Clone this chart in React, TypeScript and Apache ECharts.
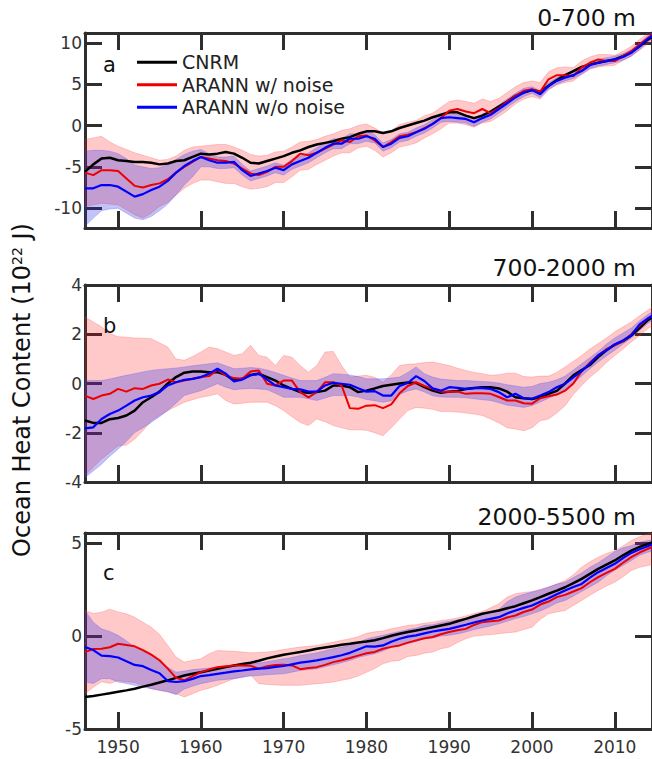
import React, { useEffect, useRef } from "react";
import * as echarts from "echarts";

const YEARS = [
  1946, 1947, 1948, 1949, 1950, 1951, 1952, 1953, 1954, 1955,
  1956, 1957, 1958, 1959, 1960, 1961, 1962, 1963, 1964, 1965,
  1966, 1967, 1968, 1969, 1970, 1971, 1972, 1973, 1974, 1975,
  1976, 1977, 1978, 1979, 1980, 1981, 1982, 1983, 1984, 1985,
  1986, 1987, 1988, 1989, 1990, 1991, 1992, 1993, 1994, 1995,
  1996, 1997, 1998, 1999, 2000, 2001, 2002, 2003, 2004, 2005,
  2006, 2007, 2008, 2009, 2010, 2011, 2012, 2013, 2014, 2015,
];
const X_TICKS = [1950, 1960, 1970, 1980, 1990, 2000, 2010];

// ---------- Panel a: 0-700 m ----------
const A_CNRM = [
  -5.6, -4.7, -4.0, -3.9, -4.2, -4.3, -4.4, -4.4, -4.5, -4.7,
  -4.6, -4.3, -4.2, -3.8, -3.4, -3.5, -3.4, -3.2, -3.4, -3.9,
  -4.5, -4.6, -4.3, -4.0, -3.7, -3.3, -3.0, -2.6, -2.3, -2.1,
  -1.9, -1.6, -1.4, -1.0, -0.7, -0.7, -0.9, -0.7, -0.3, 0.0,
  0.3, 0.6, 1.0, 1.3, 1.6, 1.6, 1.2, 0.9, 1.2, 1.7,
  2.3, 2.9, 3.6, 4.0, 4.3, 4.1, 4.8, 5.5, 6.1, 6.6,
  7.1, 7.4, 7.6, 7.8, 8.0, 8.4, 8.9, 9.6, 10.4, 11.0,
];
const A_RED = [
  -5.7, -6.0, -5.4, -5.4, -5.5, -6.4, -7.3, -7.5, -7.2, -7.0,
  -6.5, -5.7, -5.0, -4.4, -3.8, -4.0, -4.2, -4.3, -4.6, -5.2,
  -5.8, -6.0, -5.6, -5.0, -5.0, -4.3, -3.4, -3.6, -3.3, -2.8,
  -2.3, -1.8, -2.0, -1.3, -1.2, -1.8, -2.6, -2.0, -1.3, -1.1,
  -0.8, -0.3, 0.2, 0.9, 1.8, 2.0, 1.7, 1.5, 2.0, 1.5,
  2.1, 2.9, 3.6, 4.2, 4.4, 4.1, 5.6, 6.1, 6.1, 6.0,
  7.0, 7.6, 8.0, 7.8, 7.8, 8.4, 9.0, 9.8, 10.6, 11.3,
];
const A_BLUE = [
  -7.6, -7.6, -7.2, -7.2, -7.4, -8.0, -8.6, -8.3, -7.8, -7.4,
  -6.7, -5.7, -4.9, -4.3, -3.8, -4.2, -4.5, -4.5, -4.4, -5.4,
  -6.1, -5.8, -5.5, -5.1, -5.4, -4.7, -4.3, -3.9, -3.3, -2.7,
  -2.2, -2.2, -1.6, -1.6, -1.3, -1.6, -2.6, -2.2, -1.5, -1.3,
  -0.8, -0.4, 0.2, 0.9, 1.0, 0.9, 0.8, 0.4, 0.9, 1.3,
  2.0, 2.7, 3.4, 4.0, 4.3, 3.8, 4.8, 5.4, 5.8, 6.1,
  6.6, 7.3, 7.6, 7.8, 8.0, 8.3, 8.8, 9.6, 10.5, 11.2,
];
const A_RED_LO = [
  -9.8, -9.6, -9.4, -9.5, -9.6, -10.2, -10.8, -11.2, -10.6, -9.8,
  -9.3, -8.4, -7.6, -7.0, -6.6, -6.6, -6.8, -7.0, -7.0, -7.4,
  -7.7, -7.6, -7.4, -6.9, -6.9, -6.2, -5.4, -5.3, -4.7, -4.2,
  -3.7, -3.3, -3.3, -2.7, -2.5, -3.0, -3.8, -3.3, -2.6, -2.4,
  -2.1, -1.5, -1.0, -0.4, 0.3, 0.3, 0.1, -0.2, 0.3, 0.5,
  1.1, 1.8, 2.6, 3.2, 3.5, 3.2, 4.3, 4.9, 5.2, 5.4,
  6.2, 6.8, 7.1, 7.2, 7.3, 7.9, 8.4, 9.1, 9.9, 10.6,
];
const A_RED_HI = [
  -1.7, -1.5, -1.3, -2.0, -2.5, -2.9, -3.3, -3.6, -3.9, -4.2,
  -4.1, -3.7, -3.0, -2.6, -2.5, -2.4, -2.3, -2.3, -2.6, -3.0,
  -3.5, -3.7, -3.6, -3.2, -3.1, -2.6, -2.0, -1.9, -1.7, -1.3,
  -1.0, -0.6, -0.4, 0.0, 0.2, -0.3, -0.9, -0.6, 0.1, 0.4,
  0.6, 1.2, 1.5, 2.2, 2.9, 3.1, 2.9, 2.7, 3.2, 2.9,
  3.3, 4.0, 4.7, 5.2, 5.4, 5.2, 6.5, 7.0, 7.1, 7.0,
  7.8, 8.3, 8.6, 8.6, 8.5, 9.0, 9.6, 10.4, 11.2, 11.9,
];
const A_BLUE_LO = [
  -12.2, -11.2, -10.3, -10.1, -10.0, -10.6, -11.2, -11.4, -11.0, -10.3,
  -9.5, -8.4, -7.2, -6.2, -5.0, -5.0, -5.2, -5.2, -5.1, -6.0,
  -6.7, -6.4, -6.1, -5.7, -6.0, -5.3, -4.9, -4.5, -3.9, -3.3,
  -2.8, -2.8, -2.2, -2.2, -1.9, -2.1, -3.1, -2.7, -2.0, -1.8,
  -1.3, -0.9, -0.3, 0.4, 0.5, 0.4, 0.3, -0.1, 0.4, 0.8,
  1.5, 2.2, 2.9, 3.5, 3.9, 3.4, 4.4, 5.0, 5.4, 5.7,
  6.2, 6.9, 7.2, 7.4, 7.6, 7.9, 8.4, 9.2, 10.1, 10.8,
];
const A_BLUE_HI = [
  -3.1, -3.0, -3.0, -3.1, -3.4, -4.0, -4.8, -5.0, -5.2, -5.1,
  -4.7, -4.1, -3.5, -3.1, -2.9, -3.4, -3.8, -3.8, -3.7, -4.7,
  -5.5, -5.2, -4.9, -4.5, -4.8, -4.1, -3.7, -3.3, -2.7, -2.1,
  -1.6, -1.6, -1.0, -1.0, -0.7, -1.1, -2.1, -1.7, -1.0, -0.8,
  -0.3, 0.1, 0.7, 1.4, 1.5, 1.4, 1.3, 0.9, 1.4, 1.8,
  2.5, 3.2, 3.9, 4.5, 4.7, 4.2, 5.2, 5.8, 6.2, 6.5,
  7.0, 7.7, 8.0, 8.2, 8.4, 8.7, 9.2, 10.0, 10.9, 11.6,
];

// ---------- Panel b: 700-2000 m ----------
const B_CNRM = [
  -1.5, -1.6, -1.6, -1.45, -1.4, -1.3, -1.1, -0.76, -0.56, -0.33,
  0.0, 0.26, 0.44, 0.49, 0.49, 0.46, 0.46, 0.35, 0.12, 0.19,
  0.35, 0.4, 0.26, 0.12, -0.08, -0.22, -0.35, -0.38, -0.35, -0.29,
  -0.08, -0.08, -0.15, -0.35, -0.29, -0.2, -0.1, -0.05, 0.0, 0.04,
  0.02, -0.15, -0.29, -0.38, -0.33, -0.3, -0.22, -0.18, -0.15, -0.15,
  -0.2, -0.33, -0.56, -0.6, -0.63, -0.56, -0.42, -0.3, 0.0, 0.33,
  0.55, 0.75, 1.07, 1.35, 1.58, 1.72, 1.95, 2.25, 2.57, 2.8,
];
const B_RED = [
  -0.49, -0.63, -0.49, -0.42, -0.22, -0.33, -0.19, -0.22, -0.08, -0.01,
  0.16, 0.05, 0.12, 0.19, 0.26, 0.3, 0.56, 0.33, 0.22, 0.19,
  0.49, 0.53, -0.01, -0.08, 0.12, 0.12, -0.35, -0.56, -0.35, 0.05,
  0.05, -0.08, -1.0, -1.03, -0.9, -0.88, -1.0, -0.85, -0.4, -0.1,
  0.05, -0.1, -0.22, -0.33, -0.33, -0.33, -0.42, -0.4, -0.4, -0.42,
  -0.55, -0.69, -0.69, -0.8, -0.82, -0.6, -0.52, -0.45, -0.29, 0.0,
  0.5, 0.85, 1.14, 1.4, 1.55, 1.72, 2.0, 2.35, 2.64, 2.85,
];
const B_BLUE = [
  -1.82, -1.78, -1.44, -1.24, -1.1, -0.9, -0.69, -0.56, -0.49, -0.35,
  -0.08, 0.05, 0.15, 0.19, 0.26, 0.4, 0.6, 0.4, 0.08, 0.16,
  0.33, 0.4, 0.16, -0.08, -0.15, -0.22, -0.24, -0.33, -0.33, -0.08,
  0.03, -0.01, -0.05, -0.19, -0.33, -0.31, -0.49, -0.49, -0.1, 0.02,
  0.3, 0.1, -0.2, -0.29, -0.15, -0.18, -0.22, -0.19, -0.19, -0.22,
  -0.35, -0.56, -0.42, -0.6, -0.62, -0.49, -0.35, -0.15, -0.01, 0.25,
  0.5, 0.8, 1.15, 1.35, 1.58, 1.75, 1.96, 2.4, 2.64, 2.85,
];
const B_RED_LO = [
  -3.75, -3.4, -3.07, -2.8, -2.53, -2.5, -2.26, -1.92, -1.51, -1.3,
  -1.1, -0.93, -0.76, -0.66, -0.56, -0.5, -0.42, -0.69, -0.83, -0.8,
  -0.76, -0.76, -0.76, -0.9, -1.1, -1.35, -1.58, -1.71, -1.44, -1.55,
  -1.71, -1.8, -1.88, -1.88, -1.9, -2.0, -2.12, -1.8, -1.44, -1.1,
  -0.97, -1.0, -1.05, -1.14, -1.14, -1.16, -1.2, -1.24, -1.3, -1.44,
  -1.6, -1.8, -1.85, -1.92, -1.8, -1.51, -1.44, -1.2, -0.9, -0.45,
  -0.08, 0.25, 0.53, 0.85, 1.14, 1.4, 1.69, 1.95, 2.23, 2.45,
];
const B_RED_HI = [
  2.7, 2.5, 2.3, 2.03, 1.9, 1.88, 1.85, 1.84, 1.82, 1.65,
  1.48, 1.0, 0.94, 1.1, 1.28, 1.48, 1.41, 1.28, 1.14, 1.21,
  1.55, 1.14, 1.07, 0.73, 1.14, 1.07, 0.73, 0.46, 0.73, 1.28,
  1.3, 0.73, 0.26, 0.3, 0.33, 0.25, 0.05, 0.35, 0.73, 0.78,
  0.8, 0.85, 0.87, 0.8, 0.73, 0.62, 0.53, 0.45, 0.4, 0.33,
  0.36, 0.42, 0.42, 0.28, 0.26, 0.3, 0.3, 0.45, 0.67, 0.9,
  1.14, 1.4, 1.62, 1.85, 2.1, 2.3, 2.5, 2.75, 2.98, 3.2,
];
const B_BLUE_LO = [
  -3.82, -3.55, -3.28, -2.95, -2.67, -2.35, -1.99, -1.8, -1.58, -1.35,
  -1.1, -0.8, -0.49, -0.39, -0.29, -0.15, -0.01, -0.15, -0.25, -0.22,
  -0.2, -0.22, -0.25, -0.4, -0.56, -0.56, -0.56, -0.62, -0.69, -0.59,
  -0.49, -0.49, -0.49, -0.55, -0.65, -0.7, -0.76, -0.7, -0.45, -0.3,
  -0.22, -0.35, -0.5, -0.55, -0.56, -0.56, -0.58, -0.62, -0.66, -0.69,
  -0.78, -0.88, -0.92, -0.97, -0.9, -0.75, -0.6, -0.45, -0.29, 0.0,
  0.3, 0.6, 0.87, 1.12, 1.35, 1.6, 1.85, 2.15, 2.45, 2.65,
];
const B_BLUE_HI = [
  0.12, 0.12, 0.12, 0.18, 0.26, 0.33, 0.4, 0.47, 0.53, 0.57,
  0.6, 0.63, 0.67, 0.72, 0.76, 0.8, 0.84, 0.72, 0.6, 0.62,
  0.65, 0.62, 0.55, 0.45, 0.33, 0.22, 0.12, 0.12, 0.12, 0.25,
  0.4, 0.38, 0.35, 0.28, 0.19, 0.19, 0.19, 0.22, 0.26, 0.45,
  0.67, 0.4, 0.26, 0.18, 0.15, 0.12, 0.12, 0.1, 0.08, 0.06,
  0.02, -0.05, -0.1, -0.15, -0.12, 0.0, 0.05, 0.15, 0.3, 0.55,
  0.8, 1.05, 1.3, 1.6, 1.85, 2.05, 2.25, 2.55, 2.8, 3.0,
];

// ---------- Panel c: 2000-5500 m ----------
const C_CNRM = [
  -3.28, -3.22, -3.15, -3.08, -3.0, -2.92, -2.83, -2.72, -2.62, -2.5,
  -2.38, -2.25, -2.12, -2.03, -1.94, -1.85, -1.76, -1.67, -1.58, -1.5,
  -1.43, -1.33, -1.2, -1.1, -1.0, -0.93, -0.86, -0.77, -0.68, -0.61,
  -0.54, -0.47, -0.41, -0.34, -0.29, -0.22, -0.11, 0.02, 0.13, 0.22,
  0.3, 0.39, 0.48, 0.57, 0.66, 0.8, 0.93, 1.07, 1.2, 1.29,
  1.38, 1.5, 1.61, 1.77, 1.92, 2.1, 2.28, 2.45, 2.63, 2.85,
  3.08, 3.35, 3.62, 3.85, 4.07, 4.35, 4.6, 4.8, 4.96, 5.1,
];
const C_RED = [
  -0.86, -0.7, -0.68, -0.6, -0.41, -0.48, -0.55, -0.75, -1.0, -1.3,
  -1.75, -2.25, -2.38, -2.15, -1.94, -1.8, -1.67, -1.62, -1.58, -1.58,
  -1.6, -1.75, -1.62, -1.56, -1.54, -1.58, -1.78, -1.72, -1.67, -1.55,
  -1.4, -1.3, -1.18, -1.05, -0.92, -0.85, -0.68, -0.58, -0.5, -0.35,
  -0.23, -0.12, -0.05, 0.1, 0.22, 0.32, 0.39, 0.6, 0.75, 0.8,
  0.84, 1.0, 1.11, 1.3, 1.43, 1.7, 1.86, 2.1, 2.22, 2.4,
  2.58, 2.9, 3.17, 3.4, 3.62, 3.95, 4.25, 4.5, 4.7, 4.85,
];
const C_BLUE = [
  -0.59, -0.75, -1.05, -1.08, -1.15, -1.35, -1.55, -1.62, -1.82, -2.0,
  -2.42, -2.47, -2.42, -2.3, -2.15, -2.1, -2.03, -1.97, -1.9, -1.85,
  -1.79, -1.75, -1.72, -1.66, -1.61, -1.52, -1.43, -1.37, -1.31, -1.22,
  -1.13, -1.03, -0.9, -0.72, -0.55, -0.57, -0.5, -0.3, -0.14, -0.03,
  0.04, 0.15, 0.25, 0.32, 0.39, 0.5, 0.61, 0.73, 0.84, 0.93,
  1.02, 1.22, 1.38, 1.52, 1.65, 1.85, 2.04, 2.25, 2.46, 2.64,
  2.81, 3.15, 3.44, 3.67, 3.89, 4.2, 4.48, 4.68, 4.84, 5.0,
];
const C_RED_LO = [
  -3.1, -2.75, -2.45, -2.55, -2.4, -2.45, -2.5, -2.65, -2.83, -2.92,
  -3.0, -3.1, -3.28, -3.1, -2.92, -2.8, -2.65, -2.47, -2.29, -2.2,
  -2.11, -2.56, -2.6, -2.63, -2.65, -2.65, -2.65, -2.6, -2.56, -2.52,
  -2.47, -2.38, -2.29, -2.15, -1.95, -1.75, -1.49, -1.35, -1.31, -1.1,
  -1.04, -0.92, -0.86, -0.68, -0.59, -0.35, -0.14, 0.0, 0.04, 0.08,
  0.13, 0.18, 0.22, 0.35, 0.48, 0.9, 1.2, 1.3, 1.38, 1.65,
  1.92, 2.2, 2.46, 2.7, 2.9, 3.2, 3.53, 3.7, 3.8, 3.9,
];
const C_RED_HI = [
  1.38, 1.22, 1.29, 1.45, 1.3, 1.2, 1.02, 0.75, 0.48, 0.1,
  -0.5, -1.13, -1.4, -1.31, -1.22, -0.95, -0.77, -0.8, -0.82, -0.86,
  -0.9, -0.88, -0.86, -0.8, -0.72, -0.65, -0.59, -0.55, -0.5, -0.41,
  -0.32, -0.23, -0.14, -0.03, 0.15, 0.23, 0.28, 0.4, 0.48, 0.58,
  0.61, 0.7, 0.75, 0.84, 0.9, 0.98, 1.08, 1.22, 1.33, 1.52,
  1.74, 2.1, 2.28, 2.35, 2.4, 2.5, 2.63, 2.8, 2.99, 3.3,
  3.71, 4.0, 4.25, 4.45, 4.6, 4.85, 5.14, 5.35, 5.5, 5.6,
];
const C_BLUE_LO = [
  -2.47, -2.55, -2.29, -2.29, -2.47, -2.55, -2.65, -2.74, -2.83, -2.92,
  -3.0, -3.15, -2.85, -2.7, -2.56, -2.47, -2.38, -2.33, -2.29, -2.22,
  -2.15, -2.12, -2.08, -2.05, -2.03, -1.94, -1.85, -1.8, -1.76, -1.65,
  -1.54, -1.43, -1.31, -1.15, -1.05, -0.95, -0.8, -0.6, -0.5, -0.4,
  -0.3, -0.14, -0.11, 0.0, 0.05, 0.12, 0.22, 0.35, 0.45, 0.55,
  0.66, 0.8, 0.95, 1.05, 1.2, 1.35, 1.55, 1.78, 1.92, 2.15,
  2.4, 2.65, 2.9, 3.25, 3.55, 3.8, 4.07, 4.35, 4.52, 4.6,
];
const C_BLUE_HI = [
  1.38, 0.75, 0.39, 0.25, 0.04, -0.25, -0.59, -0.8, -1.04, -1.35,
  -1.67, -1.94, -1.88, -1.8, -1.76, -1.72, -1.67, -1.62, -1.58, -1.55,
  -1.5, -1.45, -1.38, -1.3, -1.22, -1.15, -1.05, -0.97, -0.9, -0.79,
  -0.68, -0.59, -0.5, -0.35, -0.15, -0.05, 0.05, 0.15, 0.25, 0.35,
  0.43, 0.58, 0.61, 0.72, 0.8, 0.88, 0.93, 1.1, 1.25, 1.35,
  1.43, 1.85, 2.1, 2.25, 2.37, 2.5, 2.65, 2.8, 2.9, 3.15,
  3.4, 3.71, 3.95, 4.25, 4.55, 4.75, 4.87, 5.05, 5.14, 5.2,
];

const PANEL_TITLES = ["0-700 m", "700-2000 m", "2000-5500 m"];
const PANEL_LETTERS = ["a", "b", "c"];
const Y_TICKS = [
  [-10, -5, 0, 5, 10],
  [-4, -2, 0, 2, 4],
  [-5, 0, 5],
];
const Y_RANGES = [
  [-12.4, 11.2],
  [-4, 4],
  [-5, 5.55],
];
const SERIES_NAMES = ["CNRM", "ARANN w/ noise", "ARANN w/o noise"];

const PANELS = [
  { cnrm: A_CNRM, red: A_RED, blue: A_BLUE, rlo: A_RED_LO, rhi: A_RED_HI, blo: A_BLUE_LO, bhi: A_BLUE_HI },
  { cnrm: B_CNRM, red: B_RED, blue: B_BLUE, rlo: B_RED_LO, rhi: B_RED_HI, blo: B_BLUE_LO, bhi: B_BLUE_HI },
  { cnrm: C_CNRM, red: C_RED, blue: C_BLUE, rlo: C_RED_LO, rhi: C_RED_HI, blo: C_BLUE_LO, bhi: C_BLUE_HI },
];

const FONT = "DejaVu Sans";
const AXIS_COLOR = "#2e2e2e";
const LABEL_COLOR = "#333";
const PINK = "rgba(255,0,0,0.21)";
const PINK_EDGE = "rgba(255,80,80,0.4)";
const LAVENDER = "rgba(40,40,230,0.28)";
const LAVENDER_EDGE = "rgba(80,80,255,0.4)";
const GRID_TOPS = [33, 285, 533];
const GRID_HEIGHTS = [195, 197, 196];
const X_MIN = 1946;
const X_MAX = 2014.5;

const pairs = (ys: number[]) => YEARS.map((y, i) => [y, ys[i]]);

function bandSeries(xi: number, yi: number, lo: number[], hi: number[], fill: string, edge: string, z: number) {
  return {
    type: "custom",
    coordinateSystem: "cartesian2d",
    xAxisIndex: xi,
    yAxisIndex: yi,
    silent: true,
    z,
    data: YEARS.map((y, i) => [y, lo[i], hi[i]]),
    encode: { x: 0, y: [1, 2] },
    renderItem: (params: any, api: any) => {
      if (params.dataIndex !== 0) return null;
      const top = YEARS.map((y, i) => api.coord([y, hi[i]]));
      const bottom = YEARS.map((y, i) => api.coord([y, lo[i]])).reverse();
      const cs = params.coordSys;
      return {
        type: "polygon",
        shape: { points: top.concat(bottom) },
        style: { fill, stroke: edge, lineWidth: 0.7 },
        clipPath: { type: "rect", shape: { x: cs.x, y: cs.y, width: cs.width, height: cs.height } },
      };
    },
  };
}

export default function App() {
  const ref = useRef<HTMLDivElement>(null);
  useEffect(() => {
    if (!ref.current) return;
    const chart = echarts.init(ref.current, null, { renderer: "svg" });

    const grid: any[] = [];
    const xAxis: any[] = [];
    const yAxis: any[] = [];
    const series: any[] = [];

    const axisLine = { show: true, onZero: false, lineStyle: { color: AXIS_COLOR, width: 3 } };
    const tick = (vals: number[]) => ({ show: true, inside: true, length: 17, customValues: vals, lineStyle: { color: AXIS_COLOR, width: 3 } });

    PANELS.forEach((p, i) => {
      grid.push({ left: 85, top: GRID_TOPS[i], width: 570, height: GRID_HEIGHTS[i] });
      const isLast = i === PANELS.length - 1;
      xAxis.push({
        type: "value", gridIndex: i, position: "bottom", min: X_MIN, max: X_MAX,
        axisLine, axisTick: tick(X_TICKS),
        axisLabel: { show: isLast, customValues: X_TICKS, margin: 9, fontSize: 17, color: LABEL_COLOR, fontFamily: FONT, formatter: (v: number) => String(v) },
        splitLine: { show: false },
      });
      xAxis.push({
        type: "value", gridIndex: i, position: "top", min: X_MIN, max: X_MAX,
        axisLine, axisTick: tick(X_TICKS), axisLabel: { show: false }, splitLine: { show: false },
      });
      yAxis.push({
        type: "value", gridIndex: i, position: "left", min: Y_RANGES[i][0], max: Y_RANGES[i][1],
        axisLine, axisTick: tick(Y_TICKS[i]),
        axisLabel: { show: true, customValues: Y_TICKS[i], margin: 3, fontSize: 17, color: LABEL_COLOR, fontFamily: FONT, formatter: (v: number) => String(v) },
        splitLine: { show: false },
      });
      yAxis.push({
        type: "value", gridIndex: i, position: "right", min: Y_RANGES[i][0], max: Y_RANGES[i][1],
        axisLine, axisTick: tick(Y_TICKS[i]), axisLabel: { show: false }, splitLine: { show: false },
      });

      const xi = 2 * i;
      const yi = 2 * i;
      series.push(bandSeries(xi, yi, p.rlo, p.rhi, PINK, PINK_EDGE, 1));
      series.push(bandSeries(xi, yi, p.blo, p.bhi, LAVENDER, LAVENDER_EDGE, 2));
      const base = { type: "line", xAxisIndex: xi, yAxisIndex: yi, symbol: "none", silent: true };
      series.push({ ...base, name: SERIES_NAMES[0], color: "#000", data: pairs(p.cnrm), lineStyle: { color: "#000", width: 2.5 }, z: 3 });
      series.push({ ...base, name: SERIES_NAMES[1], color: "#ee0000", data: pairs(p.red), lineStyle: { color: "#ee0000", width: 2 }, z: 4 });
      series.push({ ...base, name: SERIES_NAMES[2], color: "#0000ff", data: pairs(p.blue), lineStyle: { color: "#0000ff", width: 2.2 }, z: 5 });
    });

    const titleCenters = [18, 268, 517];
    const letterCenters = [65, 326, 573];

    const option: any = {
      animation: false,
      backgroundColor: "#fff",
      title: PANEL_TITLES.map((t, i) => ({
        text: t, right: 16, top: titleCenters[i] - 14, padding: 0,
        textStyle: { fontSize: 23.5, fontWeight: "normal", color: "#111", fontFamily: FONT, lineHeight: 28 },
      })),
      legend: {
        data: SERIES_NAMES, orient: "vertical", left: 137, top: 51,
        itemWidth: 40, itemHeight: 3, itemGap: 0, icon: "rect", padding: 0,
        textStyle: { fontSize: 19, lineHeight: 22.5, color: "#222", fontFamily: FONT },
        selectedMode: false,
      },
      grid, xAxis, yAxis, series,
      graphic: [
        ...PANEL_LETTERS.map((l, i) => ({
          type: "text", x: 103, y: letterCenters[i], z: 100,
          style: { text: l, fontSize: 21, fill: "#111", fontFamily: FONT, align: "left", verticalAlign: "middle" },
        })),
        {
          type: "text", x: 22, y: 390, rotation: Math.PI / 2, z: 100,
          style: {
            text: "{n|Ocean Heat Content (10}{s|22}{n| J)}",
            align: "center", verticalAlign: "middle",
            rich: {
              n: { fontSize: 24, fill: "#111", fontFamily: FONT },
              s: { fontSize: 14, fill: "#111", fontFamily: FONT, padding: [0, 0, 11, 0] },
            },
          },
        },
      ],
    };
    chart.setOption(option);
    return () => chart.dispose();
  }, []);
  return <div ref={ref} style={{ position: "fixed", left: 0, top: 0, width: 652, height: 759 }} />;
}
